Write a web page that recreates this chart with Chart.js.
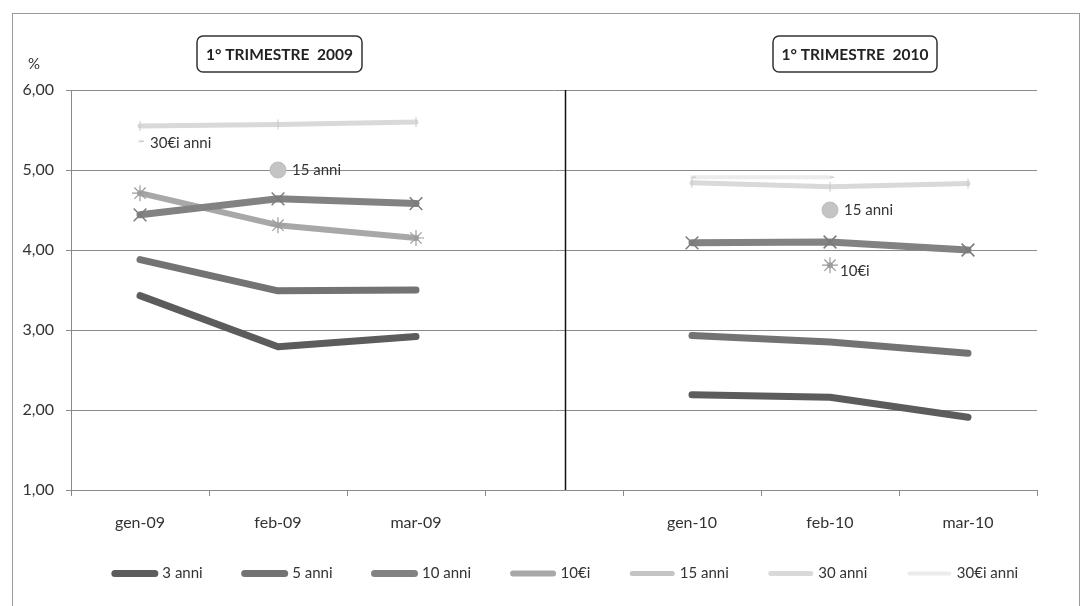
<!DOCTYPE html>
<html>
<head>
<meta charset="utf-8">
<script src="https://cdn.jsdelivr.net/npm/chart.js@4.4.1/dist/chart.umd.min.js"></script>
<style>
  body { margin: 0; background: #fff; }
  canvas { display: block; }
</style>
</head>
<body>
<canvas id="tassiChart" width="1084" height="606"></canvas>
<script>
// Mesi (la colonna vuota separa i due trimestri)
const mesi = ["gen-09", "feb-09", "mar-09", "", "gen-10", "feb-10", "mar-10"];

// Rendimenti %
const anni3 = [3.43, 2.79, 2.92, null, 2.19, 2.16, 1.91];
const anni5 = [3.88, 3.49, 3.50, null, 2.93, 2.85, 2.71];
const anni10 = [4.44, 4.64, 4.58, null, 4.09, 4.10, 4.00];
const anni10Ei = [4.71, 4.31, 4.15, null, null, 3.81, null];
const anni15 = [null, 5.00, null, null, null, 4.50, null];
const anni30 = [5.55, 5.57, 5.60, null, 4.84, 4.79, 4.83];
const anni30Ei = [5.36, null, null, null, 4.91, 4.91, null];

const yTicks = [1, 2, 3, 4, 5, 6];
const titoli = ["1° TRIMESTRE  2009", "1° TRIMESTRE  2010"];

// etichette dati accanto ad alcuni punti
const etichette = {
  "15 anni": ["feb-09", "feb-10"],
  "10€i": ["feb-10"],
  "30€i anni": ["gen-09"],
};

const font = "Lato, 'Open Sans', sans-serif";

// Disegna cornice, titoli, "%" e separatore
const decorPlugin = {
  id: "decor",
  beforeDraw(chart) {
    const ctx = chart.ctx;
    ctx.save();
    ctx.fillStyle = "#fff";
    ctx.fillRect(0, 0, chart.width, chart.height);
    ctx.strokeStyle = "#9a9a9a";
    ctx.lineWidth = 1;
    ctx.strokeRect(12.5, 13.5, 1067, 600);

    ctx.fillStyle = "#333";
    ctx.font = "15px " + font;
    ctx.textAlign = "left";
    ctx.textBaseline = "middle";
    ctx.fillText("%", 28, 64);

    const boxes = [
      { x: 197, w: 165 },
      { x: 773, w: 164 },
    ];
    boxes.forEach((b, i) => {
      ctx.beginPath();
      ctx.strokeStyle = "#333";
      ctx.lineWidth = 1.5;
      ctx.roundRect(b.x, 36, b.w, 36, 6);
      ctx.stroke();
      ctx.fillStyle = "#222";
      ctx.font = "bold 15.5px " + font;
      ctx.textAlign = "center";
      ctx.fillText(titoli[i], b.x + b.w / 2, 55);
    });
    ctx.restore();
  },
  beforeDatasetsDraw(chart) {
    const ctx = chart.ctx;
    const xs = chart.scales.x;
    const area = chart.chartArea;
    const a = xs.getPixelForValue(3);
    const b = xs.getPixelForValue(4);
    const sep = Math.round(a + (b - a) * 0.08) + 0.5;
    ctx.save();
    ctx.strokeStyle = "#111";
    ctx.lineWidth = 1.5;
    ctx.beginPath();
    ctx.moveTo(sep, area.top);
    ctx.lineTo(sep, area.bottom);
    ctx.stroke();
    ctx.restore();
  },
  afterDatasetsDraw(chart) {
    const ctx = chart.ctx;
    ctx.save();
    ctx.fillStyle = "#333";
    ctx.font = "15px " + font;
    ctx.textAlign = "left";
    ctx.textBaseline = "middle";
    chart.data.datasets.forEach((ds, di) => {
      const quali = etichette[ds.label];
      if (!quali) return;
      const meta = chart.getDatasetMeta(di);
      quali.forEach((m) => {
        const p = meta.data[mesi.indexOf(m)];
        if (!p) return;
        const dx = ds.label === "15 anni" ? 14 : 10;
        const dy = ds.label === "10€i" ? 6 : ds.label === "30€i anni" ? 2 : 0;
        ctx.fillText(ds.label, p.x + dx, p.y + dy);
      });
    });
    ctx.restore();
  },
  afterLayout(chart) {
    // sposta la legenda come nell'originale
    const lg = chart.legend;
    lg.left += 38;
    lg.right += 38;
    lg.top -= 14;
    lg.bottom -= 14;
  },
};

function serie(label, data, color, width, extra) {
  return Object.assign(
    {
      label: label,
      data: data,
      borderColor: color,
      backgroundColor: color,
      borderWidth: width,
      borderCapStyle: "round",
      borderJoinStyle: "round",
      pointRadius: 0,
      spanGaps: false,
      tension: 0,
    },
    extra || {}
  );
}

const datasets = [
  serie("3 anni", anni3, "#5c5c5c", 7),
  serie("5 anni", anni5, "#737373", 7),
  serie("10 anni", anni10, "#828282", 7, {
    pointStyle: "crossRot",
    pointRadius: 9,
    pointBorderWidth: 1.5,
    pointBorderColor: "#7a7a7a",
  }),
  serie("10€i", anni10Ei, "#a8a8a8", 6, {
    pointStyle: "star",
    pointRadius: 8,
    pointBorderWidth: 1.2,
    pointBorderColor: "#9c9c9c",
  }),
  serie("15 anni", anni15, "#c4c4c4", 5, {
    pointStyle: "circle",
    pointRadius: 8,
    pointBorderWidth: 1,
    pointBorderColor: "#bdbdbd",
  }),
  serie("30 anni", anni30, "#d9d9d9", 5, {
    pointStyle: "line",
    pointRotation: 90,
    pointRadius: 5,
    pointBorderWidth: 1,
    pointBorderColor: "#c8c8c8",
  }),
  serie("30€i anni", anni30Ei, "#ececec", 4, {
    pointStyle: "dash",
    pointRadius: 4,
    pointBorderWidth: 1.5,
    pointBorderColor: "#cfcfcf",
  }),
];

new Chart(document.getElementById("tassiChart"), {
  type: "line",
  data: { labels: mesi, datasets: datasets },
  plugins: [decorPlugin],
  options: {
    responsive: false,
    devicePixelRatio: 1,
    animation: false,
    layout: { padding: { left: 20, right: 47, top: 90, bottom: 1 } },
    plugins: {
      tooltip: { enabled: false },
      legend: {
        position: "bottom",
        labels: {
          usePointStyle: true,
          pointStyle: "line",
          pointStyleWidth: 40,
          padding: 42,
          color: "#333",
          font: { family: font, size: 15 },
          generateLabels(chart) {
            return chart.data.datasets.map((ds, i) => ({
              text: ds.label,
              datasetIndex: i,
              fillStyle: ds.borderColor,
              strokeStyle: ds.borderColor,
              lineWidth: ds.borderWidth,
              lineCap: "round",
              pointStyle: "line",
              rotation: 0,
              hidden: false,
              fontColor: "#333",
            }));
          },
        },
      },
    },
    scales: {
      x: {
        offset: true,
        afterFit: (s) => {
          s.height = 48;
        },
        grid: {
          offset: true,
          drawOnChartArea: false,
          drawTicks: true,
          tickLength: 6,
          color: "#8a8a8a",
        },
        border: { color: "#8a8a8a" },
        ticks: {
          color: "#333",
          padding: 17,
          maxRotation: 0,
          autoSkip: false,
          font: { family: font, size: 16 },
        },
      },
      y: {
        min: yTicks[0],
        max: yTicks[yTicks.length - 1],
        afterFit: (s) => {
          s.width = 51;
        },
        afterBuildTicks: (s) => {
          s.ticks = yTicks.map((v) => ({ value: v }));
        },
        grid: { color: "#8a8a8a", tickLength: 5 },
        border: { color: "#8a8a8a" },
        ticks: {
          color: "#333",
          padding: 12,
          font: { family: font, size: 16 },
          callback: (v) => v.toFixed(2).replace(".", ","),
        },
      },
    },
  },
});
</script>
</body>
</html>
